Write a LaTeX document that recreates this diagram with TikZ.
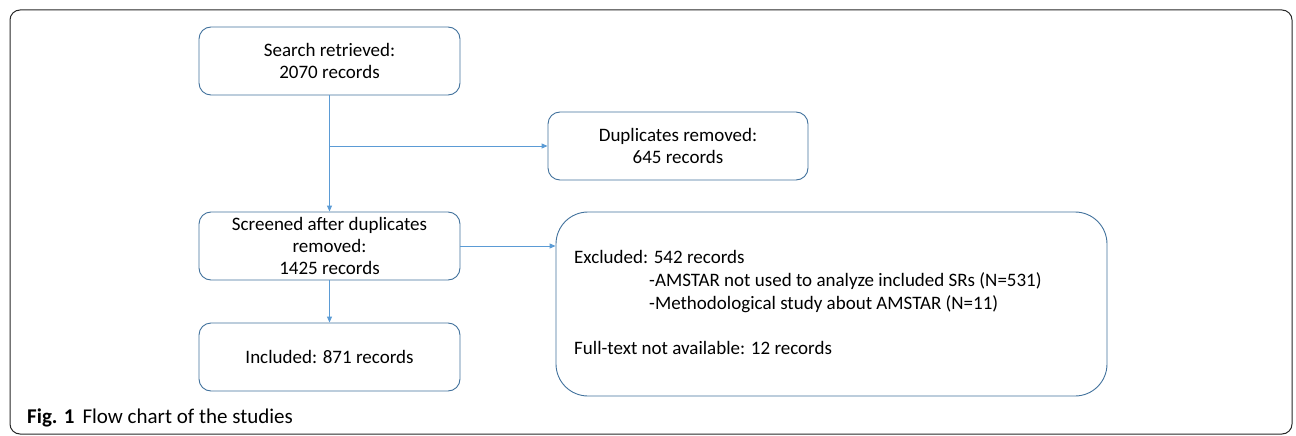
\documentclass[tikz,border=0pt]{standalone}
\usepackage{fontspec}
\setmainfont{Carlito}
\usetikzlibrary{arrows.meta}
\definecolor{boxblue}{RGB}{65,113,156}
\definecolor{arrblue}{RGB}{91,155,213}
\definecolor{framegray}{RGB}{40,40,40}
\begin{document}
\begin{tikzpicture}[x=1pt,y=-1pt,
  stepbox/.style={draw=boxblue, line width=0.9pt, rounded corners=12pt, minimum width=261pt, minimum height=68pt, align=center, font=\fontsize{19}{22}\selectfont, inner sep=0pt},
  excline/.style={anchor=base west, inner sep=0pt, font=\fontsize{19}{23}\selectfont},
  conn/.style={draw=arrblue, line width=0.9pt, -{Triangle[length=6pt,width=5pt]}}]
\useasboundingbox (0,0) rectangle (1296,436);
\draw[framegray, line width=1pt, rounded corners=10pt] (10,10) rectangle (1292,434);
\node[stepbox] (search) at (329.5,61) {Search retrieved:\\2070 records};
\node[stepbox, minimum width=260pt] (dup) at (678,146) {Duplicates removed:\\645 records};
\node[stepbox] (screen) at (329.5,246) {Screened after duplicates\\removed:\\1425 records};
\node[stepbox] (incl) at (329.5,357) {Included: 871 records};
\node[draw=boxblue, line width=0.9pt, rounded corners=32pt, minimum width=551pt, minimum height=184pt, inner sep=0pt] (excl) at (831.5,304) {};
\node[excline] (ex1) at (574,263) {Excluded: 542 records};
\node[excline] (ex2) at (649,286) {-AMSTAR not used to analyze included SRs (N=531)};
\node[excline] (ex3) at (649,309) {-Methodological study about AMSTAR (N=11)};
\node[excline] (ex4) at (574,354) {Full-text not available: 12 records};
\coordinate (branch) at (search.south |- dup.west);
\coordinate (exclin) at (screen.east -| excl.west);
\draw[conn] (search.south) -- (screen.north);
\draw[conn] (branch) -- (dup.west);
\draw[conn] (screen.east) -- (exclin);
\draw[conn] (screen.south) -- (incl.north);
\node[anchor=base west, inner sep=0pt, font=\fontsize{21}{24}\selectfont] (cap) at (27,423) {\textbf{Fig. 1}\hspace{8pt}Flow chart of the studies};
\end{tikzpicture}
\end{document}
